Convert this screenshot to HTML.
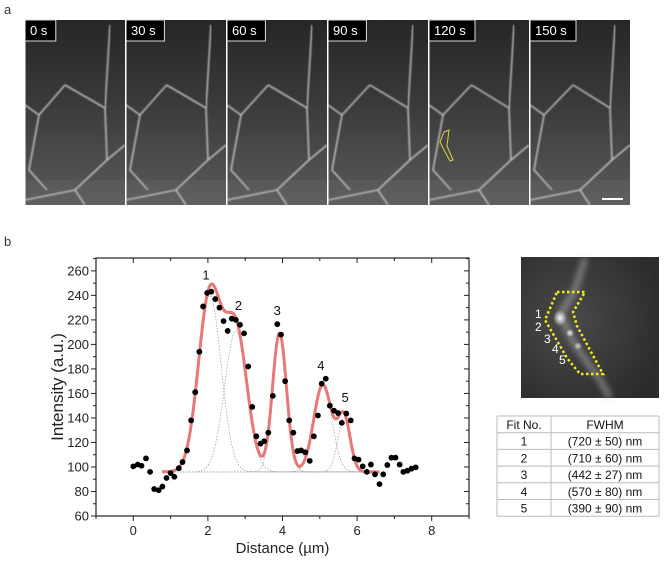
<!DOCTYPE html>
<html><head><meta charset="utf-8"><style>
html,body{margin:0;padding:0;background:#fff;}
body{width:668px;height:559px;position:relative;overflow:hidden;font-family:"Liberation Sans",sans-serif;}
svg text{font-family:"Liberation Sans",sans-serif;}
</style></head><body>
<svg id="fig" width="668" height="559" viewBox="0 0 668 559" xmlns="http://www.w3.org/2000/svg">
<defs>
<linearGradient id="pg" x1="0" y1="0" x2="0" y2="1">
<stop offset="0" stop-color="#262626"/><stop offset="0.45" stop-color="#3a3a3a"/><stop offset="1" stop-color="#5a5a5a"/>
</linearGradient>
<radialGradient id="ig" cx="0.35" cy="0.45" r="0.7">
<stop offset="0" stop-color="#4a4a4a"/><stop offset="1" stop-color="#2c2c2c"/>
</radialGradient>
<radialGradient id="glow" cx="0.5" cy="0.5" r="0.5">
<stop offset="0" stop-color="#fff" stop-opacity="0.95"/><stop offset="1" stop-color="#fff" stop-opacity="0"/>
</radialGradient>
<filter id="blur1"><feGaussianBlur stdDeviation="0.7"/></filter>
<filter id="blur3"><feGaussianBlur stdDeviation="3"/></filter>
</defs>
<text x="4" y="14" font-size="13" fill="#333">a</text>
<text x="4" y="246" font-size="13" fill="#333">b</text>
<g id="panels"></g>
<g id="inset">
<rect x="521" y="257" width="138" height="141" fill="url(#ig)"/>
<path d="M585,258 L575,290 L560,315 L575,345 L600,380 L610,398" stroke="#bbb" stroke-width="7" fill="none" opacity="0.45" filter="url(#blur3)"/>
<ellipse cx="560" cy="318" rx="7" ry="8" fill="url(#glow)"/>
<ellipse cx="570" cy="333" rx="4" ry="4" fill="url(#glow)"/>
<ellipse cx="578" cy="346" rx="4" ry="4" fill="url(#glow)" opacity="0.8"/>
<polygon points="557,292 585,292 573,312 577,326 603,374 580,374 567,358 545,320" fill="none" stroke="#f2ea1a" stroke-width="2.5" stroke-dasharray="2.5,2.5"/>
<g fill="#fff" font-size="12">
<text x="535" y="318">1</text><text x="535" y="331">2</text><text x="544" y="343">3</text><text x="552" y="353">4</text><text x="559" y="364">5</text>
</g>
</g>
<g id="table"></g>
<g id="chart"></g>
</svg>
<script>
const NS="http://www.w3.org/2000/svg";
function mk(tag,attrs,parent){const e=document.createElementNS(NS,tag);for(const k in attrs)e.setAttribute(k,attrs[k]);parent.appendChild(e);return e;}

// ---- time-lapse panels ----
const times=["0 s","30 s","60 s","90 s","120 s","150 s"];
const panels=document.getElementById('panels');
times.forEach((t,i)=>{
  const x0=25+i*101, y0=20, w=100, h=185;
  const g=mk('g',{},panels);
  
  
  mk('rect',{x:x0,y:y0,width:w,height:h,fill:'url(#pg)'},g);
  const d=i*0.6;
  const paths=[
    `M${x0+40+d},${y0} L${x0+40+d},${y0+65}`,
    `M${x0+40+d},${y0+65} L${x0+14},${y0+95} L${x0+4},${y0+150} L${x0+22},${y0+170}`,
    `M${x0+40+d},${y0+65} L${x0+80},${y0+88} L${x0+82},${y0+140}`,
    `M${x0+82},${y0+140} L${x0+50},${y0+170} L${x0},${y0+180}`,
    `M${x0+82},${y0+140} L${x0+100},${y0+125}`,
    `M${x0+80},${y0+88} L${x0+85},${y0+5}`,
    `M${x0+50},${y0+170} L${x0+60},${y0+185}`,
    `M${x0+14},${y0+95} L${x0},${y0+85}`
  ];
  paths.forEach(p=>mk('path',{d:p,stroke:'#d8d8d8','stroke-width':1.6,fill:'none',opacity:0.8,filter:'url(#blur1)'},g));
  mk('rect',{x:x0,y:y0+160,width:w,height:25,fill:'#888',opacity:0.12},g);
  const bw=t.length*7.6+8;
  mk('rect',{x:x0,y:y0,width:bw,height:21,fill:'#000',stroke:'#ddd','stroke-width':1},g);
  const tx=mk('text',{x:x0+5,y:y0+15,'font-size':13,fill:'#fff'},g);tx.textContent=t;
  mk('rect',{x:x0-0.5,y:y0,width:1,height:h,fill:'#fff'},g);
  if(i===4){
    const roi=mk('polygon',{points:`${x0+15},${y0+112} ${x0+20},${y0+110} ${x0+18},${y0+126} ${x0+24},${y0+140} ${x0+21},${y0+141} ${x0+14},${y0+128} ${x0+11},${y0+122}`,fill:'none',stroke:'#d8d23a','stroke-width':1},g);
    
    
  }
  if(i===5){
    const sb=mk('rect',{x:x0+72,y:y0+178,width:21,height:2,fill:'#fff'},g);
    
    
  }
});

// ---- table ----
const fitNo=["1","2","3","4","5"];
const fwhm=["(720 ± 50) nm","(710 ± 60) nm","(442 ± 27) nm","(570 ± 80) nm","(390 ± 90) nm"];
const tb=document.getElementById('table');
const tx0=497,tx1=659,tcol=551,ty0=416,rh=16.7;
for(let r=0;r<=6;r++)mk('line',{x1:tx0,x2:tx1,y1:ty0+r*rh,y2:ty0+r*rh,stroke:'#bbb','stroke-width':1},tb);
[tx0,tcol,tx1].forEach(x=>mk('line',{x1:x,x2:x,y1:ty0,y2:ty0+6*rh,stroke:'#bbb','stroke-width':1},tb));
function cell(txt,x,y){const e=mk('text',{x:x,y:y,'font-size':12,'text-anchor':'middle',fill:'#111'},tb);e.textContent=txt;return e;}
cell("Fit No.",(tx0+tcol)/2,ty0+13);
cell("FWHM",(tcol+tx1)/2,ty0+13);
fitNo.forEach((f,i)=>{cell(f,(tx0+tcol)/2,ty0+(i+1)*rh+13);cell(fwhm[i],(tcol+tx1)/2,ty0+(i+1)*rh+13);});

// ---- chart data ----
const xs=[0,0.12,0.22,0.34,0.45,0.56,0.68,0.78,0.89,1.0,1.1,1.22,1.32,1.44,1.55,1.66,1.77,1.87,1.98,2.09,2.2,2.31,2.42,2.53,2.64,2.75,2.86,2.97,3.08,3.19,3.3,3.41,3.51,3.62,3.74,3.86,3.96,4.07,4.18,4.29,4.4,4.5,4.61,4.73,4.84,4.95,5.05,5.16,5.27,5.38,5.49,5.59,5.71,5.83,5.93,6.04,6.15,6.26,6.37,6.48,6.6,6.7,6.81,6.92,7.03,7.14,7.24,7.35,7.46,7.57];
const ys=[100.5,102,101,107,96,82,81,84,91,95,92,99,104,113.5,138,161,194,231,242,243,237,230,219,211,221,220,216,209,182,149,125,119,121,128,158,216.5,208,170,138,128,113,113.5,112,105,125,142,168,172,150,146,144,136,143.6,138,107,106,100.5,96,102,94,86,94,101.6,107.6,107.6,102,96,97,98.6,99.7];
const fitCenters=[2.05,2.75,3.92,5.08,5.65];
const fitFwhm=[0.72,0.71,0.442,0.57,0.39];
const fitAmps=[144,115,113,71,44];
const fitBaseline=[96];
const fitRange=[0.77,6.6];
const peakLabels=["1","2","3","4","5"];
const peakLabelX=[1.95,2.82,3.86,5.03,5.68];
const peakLabelY=[253,228,224,179,153];
const xTicks=[0,2,4,6,8];
const yTicks=[60,80,100,120,140,160,180,200,220,240,260];

const L=96,R=469,T=258,B=516;
const xMin=-1,xMax=9,yMin=60,yMax=270.5;
const sx=v=>L+(v-xMin)/(xMax-xMin)*(R-L);
const sy=v=>B-(v-yMin)/(yMax-yMin)*(B-T);
const ch=document.getElementById('chart');

const frame=mk('rect',{x:L,y:T,width:R-L,height:B-T,fill:'none',stroke:'#222','stroke-width':1.2},ch);



for(let v=-1;v<=9;v++){
  const major=xTicks.includes(v), len=major?5:3;
  mk('line',{x1:sx(v),x2:sx(v),y1:B,y2:B+len,stroke:'#222','stroke-width':1},ch);
  mk('line',{x1:sx(v),x2:sx(v),y1:T,y2:T+len,stroke:'#222','stroke-width':1},ch);
}
xTicks.forEach(v=>{const e=mk('text',{x:sx(v),y:B+19,'font-size':13,'text-anchor':'middle',fill:'#222'},ch);e.textContent=v;
  
  });
for(let v=60;v<=270;v+=10){
  const major=v%20===0,len=major?5:3;
  mk('line',{x1:L-len,x2:L,y1:sy(v),y2:sy(v),stroke:'#222','stroke-width':1},ch);
  mk('line',{x1:R-len,x2:R,y1:sy(v),y2:sy(v),stroke:'#222','stroke-width':1},ch);
}
yTicks.forEach(v=>{const e=mk('text',{x:L-7,y:sy(v)+4.5,'font-size':13,'text-anchor':'end',fill:'#222'},ch);e.textContent=v;
  
  });

const xt=mk('text',{x:(L+R)/2,y:553,'font-size':15,'text-anchor':'middle',fill:'#222'},ch);xt.textContent="Distance (µm)";


const yt=mk('text',{x:0,y:0,'font-size':17,'text-anchor':'middle',fill:'#222',transform:`translate(63,${(T+B)/2}) rotate(-90)`},ch);yt.textContent="Intensity (a.u.)";



const gauss=(x,k)=>{const s=fitFwhm[k]/2.3548;return fitAmps[k]*Math.exp(-Math.pow(x-fitCenters[k],2)/(2*s*s));};
fitCenters.forEach((c,k)=>{
  let d='';
  for(let x=fitRange[0];x<=fitRange[1]+1e-9;x+=0.02){d+=(d?'L':'M')+sx(x).toFixed(1)+','+sy(fitBaseline[0]+gauss(x,k)).toFixed(1);}
  const p=mk('path',{d:d,fill:'none',stroke:'#999','stroke-width':0.7,'stroke-dasharray':'1.5,1.5'},ch);
  
  
});
let dd='';
for(let x=fitRange[0];x<=fitRange[1]+1e-9;x+=0.01){let y=fitBaseline[0];for(let k=0;k<fitCenters.length;k++)y+=gauss(x,k);dd+=(dd?'L':'M')+sx(x).toFixed(1)+','+sy(y).toFixed(1);}
const fit=mk('path',{d:dd,fill:'none',stroke:'#e87878','stroke-width':3},ch);



xs.forEach((x,i)=>{
  const c=mk('circle',{cx:sx(x),cy:sy(ys[i]),r:2.9,fill:'#000'},ch);
  
  
});
peakLabels.forEach((t,i)=>{
  const e=mk('text',{x:sx(peakLabelX[i]),y:sy(peakLabelY[i]),'font-size':13,'text-anchor':'middle',fill:'#111'},ch);e.textContent=t;
  
  
});
</script>
</body></html>
